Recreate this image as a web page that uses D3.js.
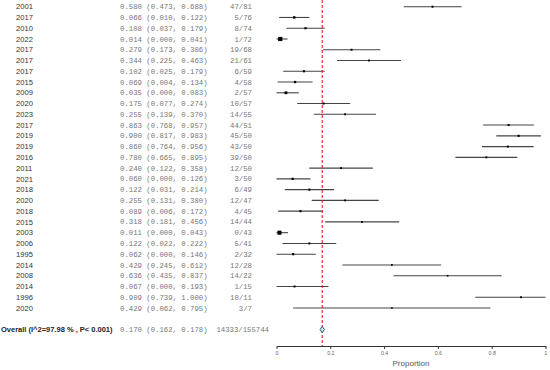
<!DOCTYPE html>
<html>
<head>
<meta charset="utf-8">
<script src="https://cdn.jsdelivr.net/npm/d3@7"></script>
<style>
  body { margin: 0; background: #fff; }
  svg { display: block; }
</style>
</head>
<body>
<div id="chart"></div>
<script>
(function () {
  'use strict';

  const years = ['2001', '2017', '2010', '2022', '2017', '2017', '2017', '2015', '2009', '2020',
    '2023', '2017', '2019', '2019', '2016', '2011', '2021', '2018', '2020', '2018',
    '2015', '2003', '2006', '1995', '2014', '2008', '2014', '1996', '2020'];
  const estimates = [0.580, 0.066, 0.108, 0.014, 0.279, 0.344, 0.102, 0.069, 0.035, 0.175,
    0.255, 0.863, 0.900, 0.860, 0.780, 0.240, 0.060, 0.122, 0.255, 0.089,
    0.318, 0.011, 0.122, 0.062, 0.429, 0.636, 0.067, 0.909, 0.429];
  const lower = [0.473, 0.010, 0.037, 0.000, 0.173, 0.225, 0.025, 0.004, 0.000, 0.077,
    0.139, 0.768, 0.817, 0.764, 0.665, 0.122, 0.000, 0.031, 0.131, 0.006,
    0.181, 0.000, 0.022, 0.000, 0.245, 0.435, 0.000, 0.739, 0.062];
  const upper = [0.688, 0.122, 0.179, 0.041, 0.386, 0.463, 0.179, 0.134, 0.083, 0.274,
    0.370, 0.957, 0.983, 0.956, 0.895, 0.358, 0.126, 0.214, 0.380, 0.172,
    0.456, 0.043, 0.222, 0.146, 0.612, 0.837, 0.193, 1.000, 0.795];
  const counts = ['47/81', '5/76', '8/74', '1/72', '19/68', '21/61', '6/59', '4/58', '2/57', '10/57',
    '14/55', '44/51', '45/50', '43/50', '39/50', '12/50', '3/50', '6/49', '12/47', '4/45',
    '14/44', '0/43', '5/41', '2/32', '12/28', '14/22', '1/15', '10/11', '3/7'];

  const overallLabel = 'Overall (I^2=97.98 % , P< 0.001)';
  const overall = { est: 0.170, lo: 0.162, hi: 0.178, count: '14333/155744' };
  const xTicks = [0, 0.2, 0.4, 0.6, 0.8, 1];

  const width = 550, height = 370;
  const fmt = d3.format('.3f');

  const rows = years.map((y, i) => ({
    year: y, est: estimates[i], lo: lower[i], hi: upper[i], count: counts[i], i: i
  }));

  const svg = d3.select('#chart').append('svg')
    .attr('width', width).attr('height', height);

  const x = d3.scaleLinear().domain([0, 1]).range([276.5, 545.5]);
  const y = d3.scaleLinear().domain([0, rows.length - 1]).range([6.7, 308]);
  const yOverall = y(rows.length + 1);

  // weight = inverse variance, square size grows with it
  const weight = d => 1 / Math.pow(Math.max(d.hi - d.lo, 0.01) / 3.92, 2);
  const size = d3.scaleSqrt().domain([0, d3.max(rows, weight)]).range([1.4, 4.2]);

  // text columns
  const mono = '"Liberation Mono", "DejaVu Sans Mono", monospace';
  const sans = '"Liberation Sans", Arial, sans-serif';

  const txt = svg.append('g');
  txt.selectAll('.yr').data(rows).join('text')
    .attr('x', 16).attr('y', d => y(d.i)).attr('dy', '0.35em')
    .attr('font-family', sans).attr('font-size', 7.6).attr('fill', '#333')
    .text(d => d.year);

  txt.selectAll('.ci').data(rows).join('text')
    .attr('x', 120).attr('y', d => y(d.i)).attr('dy', '0.35em')
    .attr('font-family', mono).attr('font-size', 7.3).attr('fill', '#777')
    .text(d => `${fmt(d.est)} (${fmt(d.lo)}, ${fmt(d.hi)})`);

  txt.selectAll('.ct').data(rows).join('text')
    .attr('x', 252).attr('y', d => y(d.i)).attr('dy', '0.35em')
    .attr('text-anchor', 'end')
    .attr('font-family', mono).attr('font-size', 7.3).attr('fill', '#777')
    .text(d => d.count);

  // overall row
  txt.append('text')
    .attr('x', 1).attr('y', yOverall).attr('dy', '0.35em')
    .attr('font-family', sans).attr('font-size', 7.5).attr('font-weight', 'bold').attr('fill', '#222')
    .text(overallLabel);
  txt.append('text')
    .attr('x', 120).attr('y', yOverall).attr('dy', '0.35em')
    .attr('font-family', mono).attr('font-size', 7.3).attr('fill', '#777')
    .text(`${fmt(overall.est)} (${fmt(overall.lo)}, ${fmt(overall.hi)})`);
  txt.append('text')
    .attr('x', 269).attr('y', yOverall).attr('dy', '0.35em')
    .attr('text-anchor', 'end')
    .attr('font-family', mono).attr('font-size', 7.3).attr('fill', '#777')
    .text(overall.count);

  // CI lines
  const g = svg.append('g');
  g.selectAll('line.ci').data(rows).join('line')
    .attr('x1', d => x(d.lo)).attr('x2', d => x(d.hi))
    .attr('y1', d => y(d.i)).attr('y2', d => y(d.i))
    .attr('stroke', '#444').attr('stroke-width', 1.1);

  g.selectAll('rect.pt').data(rows).join('rect')
    .attr('x', d => x(d.est) - size(weight(d)) / 2)
    .attr('y', d => y(d.i) - size(weight(d)) / 2)
    .attr('width', d => size(weight(d)))
    .attr('height', d => size(weight(d)))
    .attr('fill', '#000');

  // pooled estimate reference line
  svg.append('line')
    .attr('x1', x(overall.est)).attr('x2', x(overall.est))
    .attr('y1', 0).attr('y2', 346)
    .attr('stroke', '#e0201b').attr('stroke-width', 1.1)
    .attr('stroke-dasharray', '3,2');

  // overall diamond
  const dh = 3.3;
  svg.append('path')
    .attr('d', `M${x(overall.lo)},${yOverall} L${x(overall.est)},${yOverall - dh} L${x(overall.hi)},${yOverall} L${x(overall.est)},${yOverall + dh} Z`)
    .attr('fill', '#cfe6ee').attr('stroke', '#2f5f6a').attr('stroke-width', 1);

  // x axis
  const axis = svg.append('g')
    .attr('transform', 'translate(0,346)')
    .call(d3.axisBottom(x).tickValues(xTicks).tickSize(3).tickSizeOuter(0)
      .tickFormat(d => d === 0 || d === 1 ? d3.format('d')(d) : d3.format('.1f')(d)));
  axis.select('.domain').attr('stroke', '#333').attr('stroke-width', 1.1);
  axis.selectAll('.tick line').attr('stroke', '#333');
  axis.selectAll('.tick text')
    .attr('font-family', sans).attr('font-size', 5.2).attr('fill', '#666').attr('dy', '0.6em');

  svg.append('text')
    .attr('x', x(0.5)).attr('y', 366)
    .attr('text-anchor', 'middle')
    .attr('font-family', sans).attr('font-size', 8).attr('fill', '#555')
    .text('Proportion');
})();
</script>
</body>
</html>
